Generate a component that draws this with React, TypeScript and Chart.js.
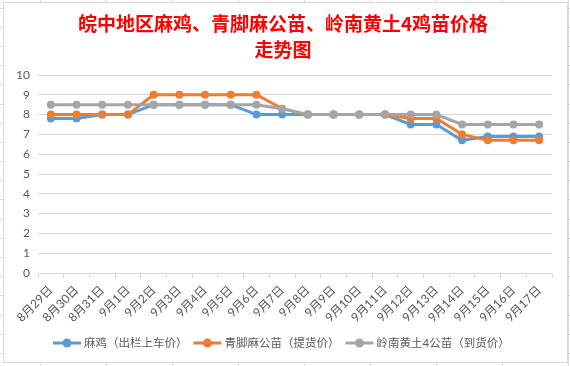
import React, { useEffect, useRef } from "react";
import { Chart, registerables } from "chart.js";
Chart.register(...registerables);

const categories = [
  "8月29日", "8月30日", "8月31日", "9月1日", "9月2日", "9月3日", "9月4日",
  "9月5日", "9月6日", "9月7日", "9月8日", "9月9日", "9月10日", "9月11日",
  "9月12日", "9月13日", "9月14日", "9月15日", "9月16日", "9月17日",
];
const seriesNames = ["麻鸡（出栏上车价）", "青脚麻公苗（提货价）", "岭南黄土4公苗（到货价）"];
const majiPrice = [7.8, 7.8, 8, 8, 8.5, 8.5, 8.5, 8.5, 8, 8, 8, 8, 8, 8, 7.5, 7.5, 6.7, 6.9, 6.9, 6.9];
const qingjiaoPrice = [8, 8, 8, 8, 9, 9, 9, 9, 9, 8.3, 8, 8, 8, 8, 7.8, 7.8, 7.0, 6.7, 6.7, 6.7];
const lingnanPrice = [8.5, 8.5, 8.5, 8.5, 8.5, 8.5, 8.5, 8.5, 8.5, 8.3, 8, 8, 8, 8, 8, 8, 7.5, 7.5, 7.5, 7.5];
const titleLines = ["皖中地区麻鸡、青脚麻公苗、岭南黄土4鸡苗价格", "走势图"];
const yMin = 0;
const yMax = 10;

const COLORS = ["#5B9BD5", "#ED7D31", "#A5A5A5"];
const FONT = "Lato, 'Noto Sans CJK SC', sans-serif";
const CJK = "'Noto Sans CJK SC', sans-serif";

const decorPlugin = {
  id: "decor",
  beforeDraw(chart: any) {
    const ctx = chart.ctx;
    const W = chart.width;
    const H = chart.height;
    ctx.save();
    ctx.fillStyle = "#ffffff";
    ctx.fillRect(0, 0, W, H);
    ctx.strokeStyle = "#d9d9d9";
    ctx.lineWidth = 1;
    for (let x = 40.5; x < W; x += 66) {
      ctx.beginPath(); ctx.moveTo(x, 0); ctx.lineTo(x, H); ctx.stroke();
    }
    for (let y = 7.5; y < H; y += 19.2) {
      ctx.beginPath(); ctx.moveTo(0, Math.round(y) + 0.5); ctx.lineTo(W, Math.round(y) + 0.5); ctx.stroke();
    }
    ctx.fillStyle = "#ffffff";
    ctx.fillRect(3, 2, 565, 361);
    ctx.strokeStyle = "#d9d9d9";
    ctx.strokeRect(3.5, 2.5, 564, 360);
    ctx.restore();
  },
  afterDraw(chart: any) {
    const ctx = chart.ctx;
    ctx.save();
    ctx.fillStyle = "#FF0000";
    ctx.font = "bold 19px " + CJK;
    ctx.textAlign = "center";
    ctx.textBaseline = "middle";
    ctx.fillText(titleLines[0], 283, 24);
    ctx.fillText(titleLines[1], 283, 50);
    ctx.font = "11.5px " + FONT;
    ctx.textAlign = "left";
    const y = 343;
    const lineLen = 28;
    const gapText = 3;
    const gapItem = 6;
    let total = 0;
    seriesNames.forEach((label, i) => {
      total += lineLen + gapText + ctx.measureText(label).width + (i < seriesNames.length - 1 ? gapItem : 0);
    });
    let x = Math.round(281 - total / 2);
    chart.data.datasets.forEach((ds: any, i: number) => {
      ctx.strokeStyle = COLORS[i];
      ctx.lineWidth = 3;
      ctx.beginPath();
      ctx.moveTo(x, y);
      ctx.lineTo(x + lineLen, y);
      ctx.stroke();
      ctx.fillStyle = COLORS[i];
      ctx.beginPath();
      ctx.arc(x + lineLen / 2, y, 4.5, 0, Math.PI * 2);
      ctx.fill();
      ctx.fillStyle = "#595959";
      const label = seriesNames[i];
      ctx.fillText(label, x + lineLen + gapText, y);
      x += lineLen + gapText + ctx.measureText(label).width + gapItem;
    });
    ctx.restore();
  },
};

export default function App() {
  const ref = useRef<HTMLCanvasElement>(null);
  useEffect(() => {
    document.body.style.margin = "0";
    const series = [majiPrice, qingjiaoPrice, lingnanPrice];
    const chart = new Chart(ref.current as HTMLCanvasElement, {
      type: "line",
      data: {
        labels: categories,
        datasets: series.map((d, i) => ({
          label: seriesNames[i],
          data: d,
          borderColor: COLORS[i],
          backgroundColor: COLORS[i],
          borderWidth: 3,
          pointRadius: 4,
          pointBorderWidth: 0,
          pointBackgroundColor: COLORS[i],
          tension: 0,
          order: 2 - i,
        })),
      },
      options: {
        responsive: false,
        animation: false,
        devicePixelRatio: 1,
        layout: { padding: { left: 0, top: 75, right: 18, bottom: 0 } },
        plugins: { legend: { display: false }, title: { display: false }, tooltip: { enabled: false } },
        scales: {
          x: {
            offset: true,
            grid: { display: true, drawOnChartArea: false, offset: true, tickLength: 5, color: "#d9d9d9" },
            border: { display: true, color: "#d9d9d9" },
            ticks: {
              autoSkip: false,
              maxRotation: 45,
              minRotation: 45,
              color: "#595959",
              font: { family: FONT, size: 12 },
              padding: 5,
            },
            afterFit: (s: any) => { s.height = 93; },
          },
          y: {
            min: yMin,
            max: yMax,
            ticks: { stepSize: 1, color: "#595959", font: { family: FONT, size: 12 }, padding: 8 },
            grid: { color: "#d9d9d9", drawTicks: false },
            border: { display: false },
            afterFit: (s: any) => { s.width = 38; },
          },
        },
      },
      plugins: [decorPlugin],
    });
    return () => chart.destroy();
  }, []);
  return <canvas ref={ref} width={570} height={366} style={{ display: "block" }} />;
}
